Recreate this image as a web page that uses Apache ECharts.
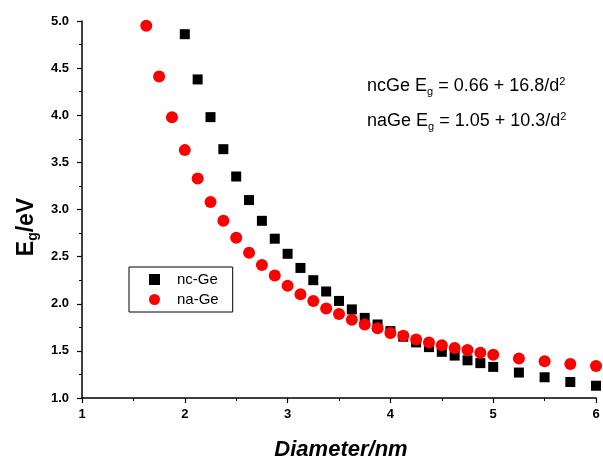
<!DOCTYPE html>
<html><head><meta charset="utf-8">
<script src="https://cdn.jsdelivr.net/npm/echarts@6/dist/echarts.min.js"></script>
<style>html,body{margin:0;padding:0;background:#fff}#c{width:603px;height:466px}</style>
</head><body><div id="c"></div>
<script>
const ncX = [2.0,2.125,2.25,2.375,2.5,2.625,2.75,2.875,3.0,3.125,3.25,3.375,3.5,3.625,3.75,3.875,4.0,4.125,4.25,4.375,4.5,4.625,4.75,4.875,5.0,5.25,5.5,5.75,6.0];
const ncY = [4.86,4.38,3.98,3.64,3.35,3.10,2.88,2.69,2.53,2.38,2.25,2.13,2.03,1.94,1.85,1.78,1.71,1.65,1.59,1.54,1.49,1.45,1.40,1.37,1.33,1.27,1.22,1.17,1.13];
const naX = [1.625,1.75,1.875,2.0,2.125,2.25,2.375,2.5,2.625,2.75,2.875,3.0,3.125,3.25,3.375,3.5,3.625,3.75,3.875,4.0,4.125,4.25,4.375,4.5,4.625,4.75,4.875,5.0,5.25,5.5,5.75,6.0];
const naY = [4.95,4.41,3.98,3.63,3.33,3.08,2.88,2.70,2.54,2.41,2.30,2.19,2.10,2.03,1.95,1.89,1.83,1.78,1.74,1.69,1.66,1.62,1.59,1.56,1.53,1.51,1.48,1.46,1.42,1.39,1.36,1.34];
const seriesNames = ['nc-Ge','na-Ge'];

const chart = echarts.init(document.getElementById('c'));
const FF = 'Liberation Sans, Arial, sans-serif';
const axisCommon = {
  axisLine:{show:true,onZero:false,lineStyle:{color:'#000',width:1.5}},
  axisTick:{show:true,inside:false,length:5,lineStyle:{color:'#000',width:1.2}},
  minorTick:{show:true,splitNumber:2,length:3,lineStyle:{color:'#000',width:1}},
  splitLine:{show:false},
  axisLabel:{color:'#000',fontFamily:FF,fontWeight:'bold',fontSize:13}
};
const eqRich = {a:{fontFamily:FF,fontSize:18,fill:'#000'},
                s:{fontFamily:FF,fontSize:11,fill:'#000',padding:[10,0,0,0]},
                p:{fontFamily:FF,fontSize:11,fill:'#000',padding:[0,0,10,0]}};
chart.setOption({
  animation:false,
  backgroundColor:'#fff',
  grid:{left:82,top:21,width:514,height:380,containLabel:false},
  xAxis:Object.assign({},axisCommon,{
    type:'value',min:1,max:6,interval:1,
    name:'Diameter/nm',nameLocation:'middle',nameGap:41,
    nameTextStyle:{color:'#000',fontFamily:FF,fontWeight:'bold',fontStyle:'italic',fontSize:22,padding:[0,0,0,4]},
    axisLabel:Object.assign({},axisCommon.axisLabel,{margin:10})
  }),
  yAxis:Object.assign({},axisCommon,{
    type:'value',min:1,max:5,interval:0.5,
    axisLabel:Object.assign({},axisCommon.axisLabel,{margin:13,formatter:v=>v.toFixed(1)})
  }),
  legend:{
    orient:'vertical',left:129,top:267,
    borderColor:'#000',borderWidth:1,borderRadius:0,
    padding:[5,14,5,20],itemGap:5,itemWidth:11,itemHeight:11,
    textStyle:{fontFamily:FF,fontSize:15,color:'#000',padding:[0,0,0,12]},
    data:[{name:seriesNames[0],icon:'rect'},{name:seriesNames[1],icon:'circle'}]
  },
  series:[
    {name:seriesNames[0],type:'scatter',symbol:'rect',symbolSize:10,clip:false,
     itemStyle:{color:'#000',opacity:1},data:ncX.map((x,i)=>[x,ncY[i]])},
    {name:seriesNames[1],type:'scatter',symbol:'circle',symbolSize:12,clip:false,
     itemStyle:{color:'#ff0000',opacity:1},data:naX.map((x,i)=>[x,naY[i]])}
  ],
  graphic:[
    {type:'text',x:27,y:227,rotation:Math.PI/2,style:{
      text:'{a|E}{s|g}{a|/eV}',align:'center',verticalAlign:'middle',
      rich:{a:{fontFamily:FF,fontWeight:'bold',fontSize:23,fill:'#000'},
            s:{fontFamily:FF,fontWeight:'bold',fontSize:14,fill:'#000',padding:[12,0,0,0]}}}},
    {type:'text',left:367,top:76,style:{text:'{a|ncGe E}{s|g}{a| = 0.66 + 16.8/d}{p|2}',rich:eqRich}},
    {type:'text',left:367,top:111,style:{text:'{a|naGe E}{s|g}{a| = 1.05 + 10.3/d}{p|2}',rich:eqRich}}
  ]
});
</script></body></html>
